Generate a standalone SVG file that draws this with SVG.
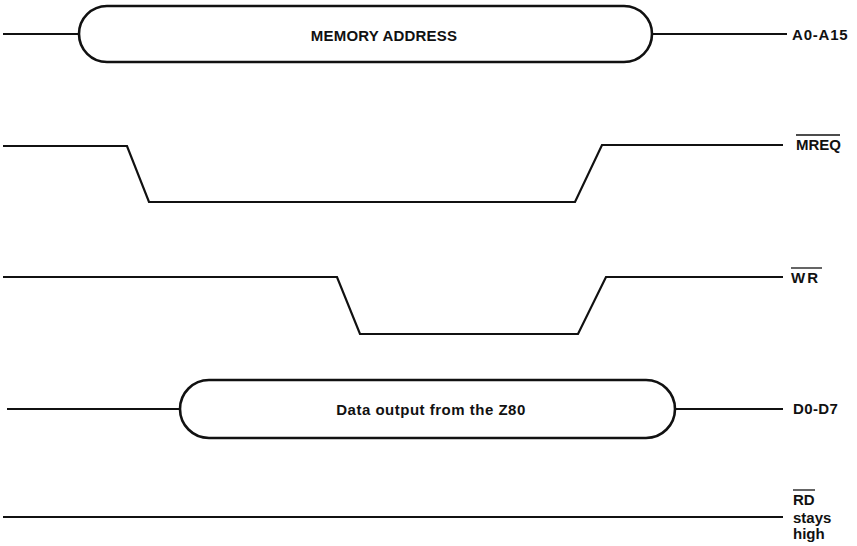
<svg xmlns="http://www.w3.org/2000/svg" width="857" height="546" viewBox="0 0 857 546">
<style>
.w{fill:none;stroke:#111;stroke-width:2.2;stroke-linejoin:miter}
.p{fill:#fff;stroke:#111;stroke-width:2.6}
.t{font-family:"Liberation Sans",Arial,sans-serif;font-weight:bold;font-size:15px;fill:#111}
.c{text-anchor:middle}
.o{stroke:#111;stroke-width:1.3}
</style>
<rect width="857" height="546" fill="#fff"/>
<g id="connectors">
<path class="w" d="M3 34H79M652 34H787"/>
<path class="w" d="M7 409H180M675 409H783"/>
</g>
<g id="address">
<rect class="p" x="79" y="6" width="573" height="56" rx="28"/>
<text class="t c" x="384" y="41" style="letter-spacing:0.2px">MEMORY ADDRESS</text>
<text class="t" x="792" y="40" style="letter-spacing:0.8px">A0-A15</text>
</g>
<g id="mreq">
<path class="w" d="M3 146H127L149 202H575L602 145H783"/>
<text class="t" x="796" y="150">MREQ</text>
<line class="o" x1="796" y1="135" x2="840" y2="135"/>
</g>
<g id="wr">
<path class="w" d="M3 277H337L360 334H578L606 277H783"/>
<text class="t" x="791" y="283" style="letter-spacing:2px">WR</text>
<line class="o" x1="791" y1="268" x2="822" y2="268"/>
</g>
<g id="data">
<rect class="p" x="180" y="380" width="495" height="58" rx="29"/>
<text class="t c" x="431" y="415" style="letter-spacing:0.5px">Data output from the Z80</text>
<text class="t" x="793" y="414" style="letter-spacing:0.4px">D0-D7</text>
</g>
<g id="rd">
<path class="w" d="M3 517H783"/>
<text class="t" x="793" y="505">RD</text>
<line class="o" x1="793" y1="490" x2="815" y2="490"/>
<text class="t" x="793" y="523">stays</text>
<text class="t" x="793" y="539">high</text>
</g>
</svg>
